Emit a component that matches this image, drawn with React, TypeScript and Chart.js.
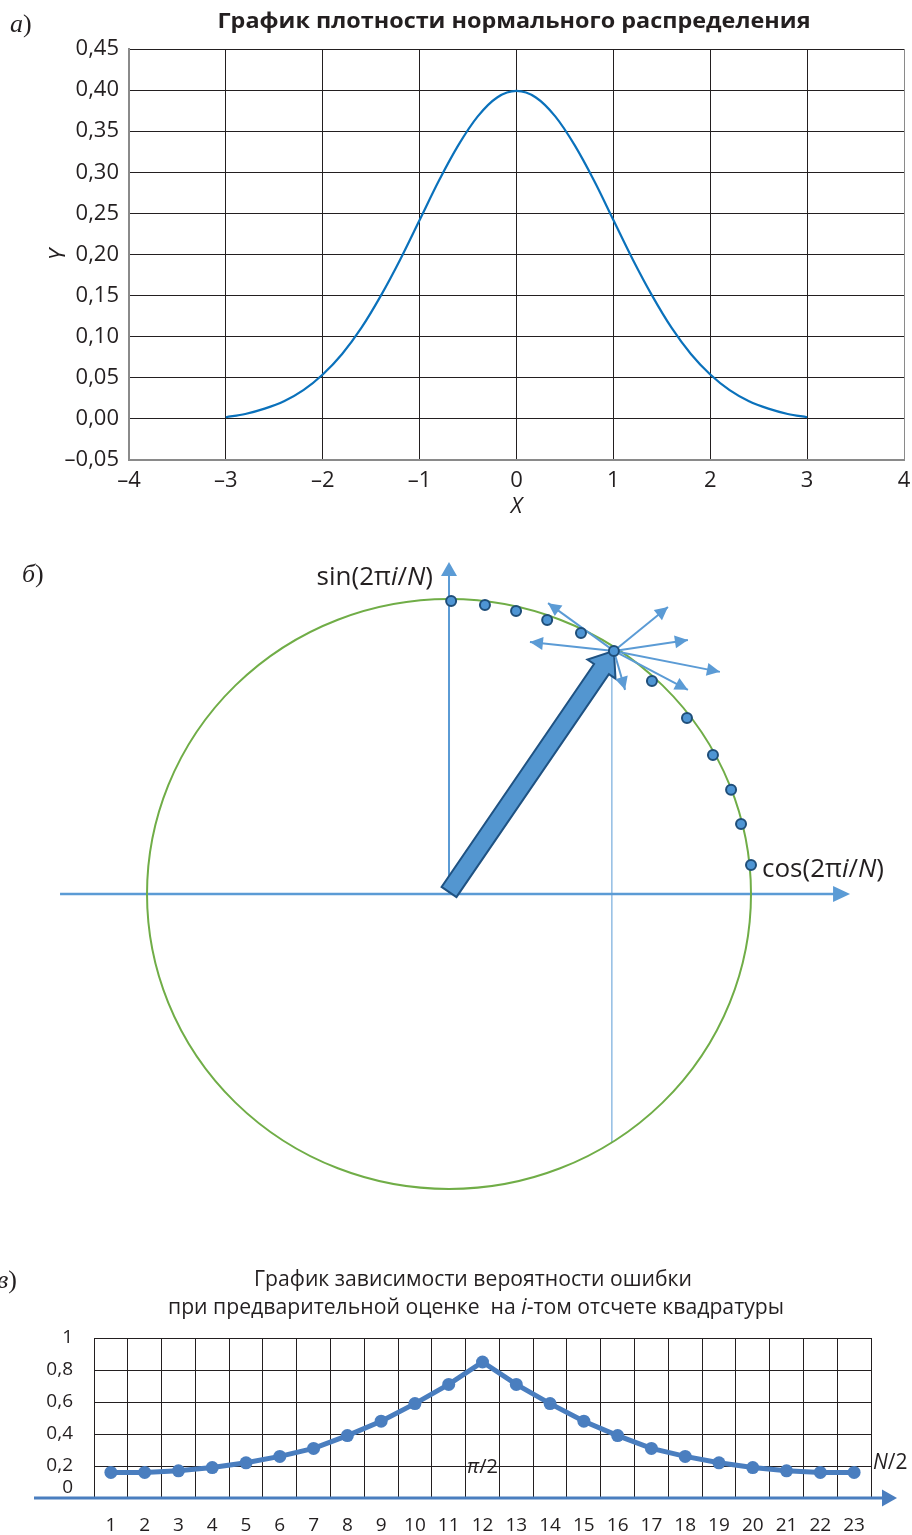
import { useEffect, useRef } from 'react';
import { Chart, registerables } from 'chart.js';

Chart.register(...registerables);

const SANS = '"Open Sans", "Noto Sans", sans-serif';
const SERIF = '"Liberation Serif", "DejaVu Serif", serif';
const INK = '#231f20';

// ---------- а) normal density ----------
const densityTitle = 'График плотности нормального распределения';
const densityX = [-3, -2.8, -2.6, -2.4, -2.2, -2, -1.8, -1.6, -1.4, -1.2, -1, -0.8, -0.6, -0.4, -0.2, 0, 0.2, 0.4, 0.6, 0.8, 1, 1.2, 1.4, 1.6, 1.8, 2, 2.2, 2.4, 2.6, 2.8, 3];
const densityY = [0.002, 0.006, 0.0125, 0.0215, 0.035, 0.054, 0.079, 0.111, 0.15, 0.194, 0.242, 0.29, 0.333, 0.368, 0.391, 0.399, 0.391, 0.368, 0.333, 0.29, 0.242, 0.194, 0.15, 0.111, 0.079, 0.054, 0.035, 0.0215, 0.0125, 0.006, 0.002];
const densityXTicks = ['–4', '–3', '–2', '–1', '0', '1', '2', '3', '4'];
const densityYTicks = ['–0,05', '0,00', '0,05', '0,10', '0,15', '0,20', '0,25', '0,30', '0,35', '0,40', '0,45'];

// ---------- б) samples on the unit circle ----------
const sampleCos = [0.007, 0.119, 0.222, 0.325, 0.437, 0.546, 0.672, 0.788, 0.874, 0.934, 0.967, 1.0];
const sampleSin = [0.993, 0.98, 0.959, 0.929, 0.885, 0.824, 0.722, 0.597, 0.471, 0.353, 0.237, 0.098];
const currentSample = 5;
const fanTipCos = [0.328, 0.725, 0.268, 0.791, 0.897, 0.791, 0.583];
const fanTipSin = [0.986, 0.973, 0.854, 0.861, 0.753, 0.692, 0.692];
const cosAxisFrom = -1.288;
const cosAxisTo = 1.328;
const sinAxisTo = 1.125;
const guideBottom = -0.844;

// ---------- в) error probability per sample ----------
const titleLine1 = 'График зависимости вероятности ошибки';
const titleLine2 = ['при предварительной оценке  на ', 'i', '-том отсчете квадратуры'];
const sampleLabels = ['1', '2', '3', '4', '5', '6', '7', '8', '9', '10', '11', '12', '13', '14', '15', '16', '17', '18', '19', '20', '21', '22', '23'];
const errorProb = [0.16, 0.16, 0.17, 0.19, 0.22, 0.26, 0.31, 0.39, 0.48, 0.59, 0.71, 0.85, 0.71, 0.59, 0.48, 0.39, 0.31, 0.26, 0.22, 0.19, 0.17, 0.16, 0.16];
const errorYTicks = ['0', '0,2', '0,4', '0,6', '0,8', '1'];

type Run = { text: string; font: string };

function drawRuns(
  ctx: CanvasRenderingContext2D,
  runs: Run[],
  x: number,
  y: number,
  align: 'left' | 'center' | 'right',
  color = INK,
  fitWidth?: number
) {
  ctx.save();
  let total = 0;
  const widths = runs.map((r) => {
    ctx.font = r.font;
    const w = ctx.measureText(r.text).width;
    total += w;
    return w;
  });
  const sx = fitWidth ? fitWidth / total : 1;
  const w = total * sx;
  const start = align === 'left' ? x : align === 'center' ? x - w / 2 : x - w;
  ctx.translate(start, y);
  ctx.scale(sx, 1);
  ctx.textBaseline = 'middle';
  ctx.textAlign = 'left';
  ctx.fillStyle = color;
  let cx = 0;
  runs.forEach((r, i) => {
    ctx.font = r.font;
    ctx.fillText(r.text, cx, 0);
    cx += widths[i];
  });
  ctx.restore();
}

function arrowHead(
  ctx: CanvasRenderingContext2D,
  x0: number,
  y0: number,
  x1: number,
  y1: number,
  len: number,
  half: number,
  color: string
) {
  const a = Math.atan2(y1 - y0, x1 - x0);
  ctx.save();
  ctx.translate(x1, y1);
  ctx.rotate(a);
  ctx.fillStyle = color;
  ctx.beginPath();
  ctx.moveTo(0, 0);
  ctx.lineTo(-len, -half);
  ctx.lineTo(-len, half);
  ctx.closePath();
  ctx.fill();
  ctx.restore();
}

function panelLetter(ctx: CanvasRenderingContext2D, letter: string, x: number, y: number) {
  drawRuns(
    ctx,
    [
      { text: letter, font: `italic 26px ${SERIF}` },
      { text: ')', font: `26px ${SERIF}` },
    ],
    x,
    y,
    'left'
  );
}

function makeDensity(canvas: HTMLCanvasElement) {
  const gridColor = (c: any) => (c.tick && Math.abs(c.tick.value - 4) < 1e-9 ? '#8a8a8a' : INK);
  return new Chart(canvas, {
    type: 'line',
    data: {
      datasets: [
        {
          data: densityX.map((x, i) => ({ x, y: densityY[i] })),
          borderColor: '#0a71bb',
          borderWidth: 2.2,
          pointRadius: 0,
          tension: 0.35,
          fill: false,
        },
      ],
    },
    options: {
      responsive: false,
      animation: false,
      events: [],
      layout: { autoPadding: false, padding: { top: 49, right: 8, left: 0, bottom: 0 } },
      plugins: { legend: { display: false }, tooltip: { enabled: false } },
      scales: {
        x: {
          type: 'linear',
          min: -4,
          max: 4,
          ticks: {
            stepSize: 1,
            padding: 8,
            color: INK,
            font: { family: SANS, size: 22 },
            callback: (_v: any, i: number) => densityXTicks[i],
          },
          grid: { color: gridColor, lineWidth: 1, drawTicks: false },
          border: { color: '#8a8a8a', width: 2 },
          title: {
            display: true,
            text: 'X',
            color: INK,
            font: { family: SANS, size: 22, style: 'italic' },
            padding: { top: 0, bottom: 10 },
          },
          afterFit: (s: any) => {
            s.height = 70;
            s.paddingLeft = 0;
            s.paddingRight = 0;
          },
        },
        y: {
          type: 'linear',
          min: -0.05,
          max: 0.45,
          ticks: {
            stepSize: 0.05,
            padding: 10,
            color: INK,
            font: { family: SANS, size: 22 },
            callback: (_v: any, i: number) => densityYTicks[i],
          },
          grid: { color: INK, lineWidth: 1, drawTicks: false },
          border: { color: '#8a8a8a', width: 2 },
          title: {
            display: true,
            text: 'Y',
            color: INK,
            font: { family: SANS, size: 22, style: 'italic' },
            padding: { top: 46, bottom: 0 },
          },
          afterFit: (s: any) => {
            s.width = 129;
            s.paddingTop = 0;
            s.paddingBottom = 0;
          },
        },
      },
    },
    plugins: [
      {
        id: 'densityText',
        afterDraw(chart: any) {
          const ctx = chart.ctx as CanvasRenderingContext2D;
          drawRuns(ctx, [{ text: densityTitle, font: `bold 22px ${SANS}` }], 514, 22, 'center', INK, 593);
          panelLetter(ctx, 'а', 10, 25);
        },
      },
    ],
  } as any);
}

function makeCircle(canvas: HTMLCanvasElement) {
  const hubX = sampleCos[currentSample];
  const hubY = sampleSin[currentSample];
  const fanSets = fanTipCos.map((tx, i) => ({
    type: 'line',
    data: [
      { x: hubX, y: hubY },
      { x: tx, y: fanTipSin[i] },
    ],
    borderColor: '#5b9bd5',
    borderWidth: 2,
    pointRadius: 0,
    showLine: true,
    order: 1,
    arrowHead: true,
  }));
  return new Chart(canvas, {
    type: 'line',
    data: {
      datasets: [
        {
          data: sampleCos.map((x, i) => ({ x, y: sampleSin[i] })),
          showLine: false,
          pointRadius: 5,
          pointBackgroundColor: '#4e95d4',
          pointBorderColor: '#1f4e79',
          pointBorderWidth: 2,
          order: 0,
        },
        ...fanSets,
      ],
    },
    options: {
      responsive: false,
      animation: false,
      events: [],
      layout: { autoPadding: false, padding: 0 },
      plugins: { legend: { display: false }, tooltip: { enabled: false } },
      scales: {
        x: { type: 'linear', display: false, min: -1.4868, max: 1.5331 },
        y: { type: 'linear', display: false, min: -1.1051, max: 1.2 },
      },
    },
    plugins: [
      {
        id: 'circleScene',
        beforeDatasetsDraw(chart: any) {
          const ctx = chart.ctx as CanvasRenderingContext2D;
          const xs = chart.scales.x;
          const ys = chart.scales.y;
          const px = (v: number) => xs.getPixelForValue(v);
          const py = (v: number) => ys.getPixelForValue(v);
          const blue = '#5b9bd5';
          ctx.save();
          // coordinate axes
          ctx.strokeStyle = blue;
          ctx.lineWidth = 2.5;
          ctx.beginPath();
          ctx.moveTo(px(cosAxisFrom), py(0));
          ctx.lineTo(px(cosAxisTo) - 10, py(0));
          ctx.stroke();
          arrowHead(ctx, px(cosAxisFrom), py(0), px(cosAxisTo), py(0), 17, 8, blue);
          ctx.lineWidth = 2;
          ctx.beginPath();
          ctx.moveTo(px(0), py(0));
          ctx.lineTo(px(0), py(sinAxisTo) + 10);
          ctx.stroke();
          arrowHead(ctx, px(0), py(0), px(0), py(sinAxisTo), 14, 8, blue);
          // projection of the current sample
          ctx.lineWidth = 1;
          ctx.beginPath();
          ctx.moveTo(px(hubX) - 2, py(hubY));
          ctx.lineTo(px(hubX) - 2, py(guideBottom));
          ctx.stroke();
          // unit circle
          ctx.strokeStyle = '#70ad47';
          ctx.lineWidth = 2;
          ctx.beginPath();
          ctx.ellipse(px(0), py(0), px(1) - px(0), py(0) - py(1), 0, 0, Math.PI * 2);
          ctx.stroke();
          // radius vector of the current sample
          const sx = px(0);
          const sy = py(0) - 2;
          const ex = px(hubX);
          const ey = py(hubY);
          const L = Math.hypot(ex - sx, ey - sy);
          const ux = (ex - sx) / L;
          const uy = (ey - sy) / L;
          const nx = -uy;
          const ny = ux;
          const shaft = 9;
          const head = 17;
          const headLen = 22;
          const bx = ex - ux * headLen;
          const by = ey - uy * headLen;
          const pts = [
            [sx + nx * shaft, sy + ny * shaft],
            [bx + nx * shaft, by + ny * shaft],
            [bx + nx * head, by + ny * head],
            [ex, ey],
            [bx - nx * head, by - ny * head],
            [bx - nx * shaft, by - ny * shaft],
            [sx - nx * shaft, sy - ny * shaft],
          ];
          ctx.beginPath();
          pts.forEach(([x, y], i) => (i ? ctx.lineTo(x, y) : ctx.moveTo(x, y)));
          ctx.closePath();
          ctx.fillStyle = '#5396d0';
          ctx.fill();
          ctx.strokeStyle = '#1f5282';
          ctx.lineWidth = 2;
          ctx.lineJoin = 'miter';
          ctx.stroke();
          ctx.restore();
        },
        afterDatasetsDraw(chart: any) {
          const ctx = chart.ctx as CanvasRenderingContext2D;
          chart.data.datasets.forEach((ds: any, i: number) => {
            if (!ds.arrowHead) return;
            const pts = chart.getDatasetMeta(i).data;
            arrowHead(ctx, pts[0].x, pts[0].y, pts[1].x, pts[1].y, 13, 6.5, '#5b9bd5');
          });
        },
        afterDraw(chart: any) {
          const ctx = chart.ctx as CanvasRenderingContext2D;
          const xs = chart.scales.x;
          const ys = chart.scales.y;
          const f = `26px ${SANS}`;
          const fi = `italic 26px ${SANS}`;
          drawRuns(
            ctx,
            [
              { text: 'sin(2π', font: f },
              { text: 'i', font: fi },
              { text: '/', font: f },
              { text: 'N', font: fi },
              { text: ')', font: f },
            ],
            xs.getPixelForValue(0) - 16,
            ys.getPixelForValue(sinAxisTo) + 15,
            'right'
          );
          const last = sampleCos.length - 1;
          drawRuns(
            ctx,
            [
              { text: 'cos(2π', font: f },
              { text: 'i', font: fi },
              { text: '/', font: f },
              { text: 'N', font: fi },
              { text: ')', font: f },
            ],
            xs.getPixelForValue(sampleCos[last]) + 11,
            ys.getPixelForValue(sampleSin[last]) + 5,
            'left'
          );
          panelLetter(ctx, 'б', 22, 35);
        },
      },
    ],
  } as any);
}

function makeError(canvas: HTMLCanvasElement) {
  const lineBlue = '#4a7ebf';
  return new Chart(canvas, {
    type: 'line',
    data: {
      labels: sampleLabels,
      datasets: [
        {
          data: errorProb,
          borderColor: lineBlue,
          borderWidth: 5,
          pointRadius: 6.5,
          pointBackgroundColor: lineBlue,
          pointBorderWidth: 0,
          tension: 0,
          fill: false,
        },
      ],
    },
    options: {
      responsive: false,
      animation: false,
      events: [],
      layout: { autoPadding: false, padding: { top: 98, right: 41, left: 0, bottom: 0 } },
      plugins: { legend: { display: false }, tooltip: { enabled: false } },
      scales: {
        x: {
          type: 'category',
          offset: true,
          grid: { offset: true, color: INK, lineWidth: 1, drawTicks: false },
          border: { color: INK, width: 1 },
          ticks: {
            padding: 16,
            color: INK,
            autoSkip: false,
            maxRotation: 0,
            font: { family: SANS, size: 19 },
          },
          afterFit: (s: any) => {
            s.height = 37;
            s.paddingLeft = 0;
            s.paddingRight = 0;
          },
        },
        y: {
          type: 'linear',
          min: 0,
          max: 1,
          ticks: {
            stepSize: 0.2,
            padding: 21,
            color: INK,
            font: { family: SANS, size: 19 },
            callback: (_v: any, i: number) => (i === 0 ? '' : errorYTicks[i]),
          },
          grid: { color: INK, lineWidth: 1, drawTicks: false },
          border: { color: INK, width: 1 },
          afterFit: (s: any) => {
            s.width = 94;
            s.paddingTop = 0;
            s.paddingBottom = 0;
          },
        },
      },
    },
    plugins: [
      {
        id: 'errorText',
        afterDraw(chart: any) {
          const ctx = chart.ctx as CanvasRenderingContext2D;
          const area = chart.chartArea;
          const xs = chart.scales.x;
          const ys = chart.scales.y;
          const f = `21px ${SANS}`;
          // abscissa arrow
          const y0 = ys.getPixelForValue(0);
          ctx.save();
          ctx.strokeStyle = lineBlue;
          ctx.lineWidth = 3;
          ctx.beginPath();
          ctx.moveTo(area.left - 60, y0);
          ctx.lineTo(area.right + 14, y0);
          ctx.stroke();
          ctx.restore();
          arrowHead(ctx, area.left - 60, y0, area.right + 26, y0, 15, 8.5, lineBlue);
          // zero label sits just above the arrow
          drawRuns(ctx, [{ text: errorYTicks[0], font: `19px ${SANS}` }], area.left - 21, y0 - 10, 'right');
          // titles
          drawRuns(ctx, [{ text: titleLine1, font: f }], 473, 40, 'center', INK, 438);
          drawRuns(
            ctx,
            [
              { text: titleLine2[0], font: f },
              { text: titleLine2[1], font: `italic 21px ${SANS}` },
              { text: titleLine2[2], font: f },
            ],
            476,
            68,
            'center',
            INK,
            616
          );
          // annotations
          drawRuns(
            ctx,
            [
              { text: 'π', font: `italic 20px ${SANS}` },
              { text: '/2', font: `20px ${SANS}` },
            ],
            xs.getPixelForValue(11),
            ys.getPixelForValue(0.19),
            'center'
          );
          drawRuns(
            ctx,
            [
              { text: 'N', font: `italic 21px ${SANS}` },
              { text: '/2', font: `21px ${SANS}` },
            ],
            area.right + 2,
            ys.getPixelForValue(0.22),
            'left'
          );
          panelLetter(ctx, 'в', -3, 41);
        },
      },
    ],
  } as any);
}

export default function App() {
  const aRef = useRef<HTMLCanvasElement>(null);
  const bRef = useRef<HTMLCanvasElement>(null);
  const cRef = useRef<HTMLCanvasElement>(null);

  useEffect(() => {
    const charts = [makeDensity(aRef.current!), makeCircle(bRef.current!), makeError(cRef.current!)];
    return () => charts.forEach((c) => c.destroy());
  }, []);

  return (
    <div style={{ position: 'absolute', left: 0, top: 0, width: 912, height: 1535, background: '#fff', overflow: 'hidden' }}>
      <canvas ref={aRef} width={912} height={530} style={{ position: 'absolute', left: 0, top: 0 }} />
      <canvas ref={bRef} width={912} height={680} style={{ position: 'absolute', left: 0, top: 540 }} />
      <canvas ref={cRef} width={912} height={295} style={{ position: 'absolute', left: 0, top: 1240 }} />
    </div>
  );
}
